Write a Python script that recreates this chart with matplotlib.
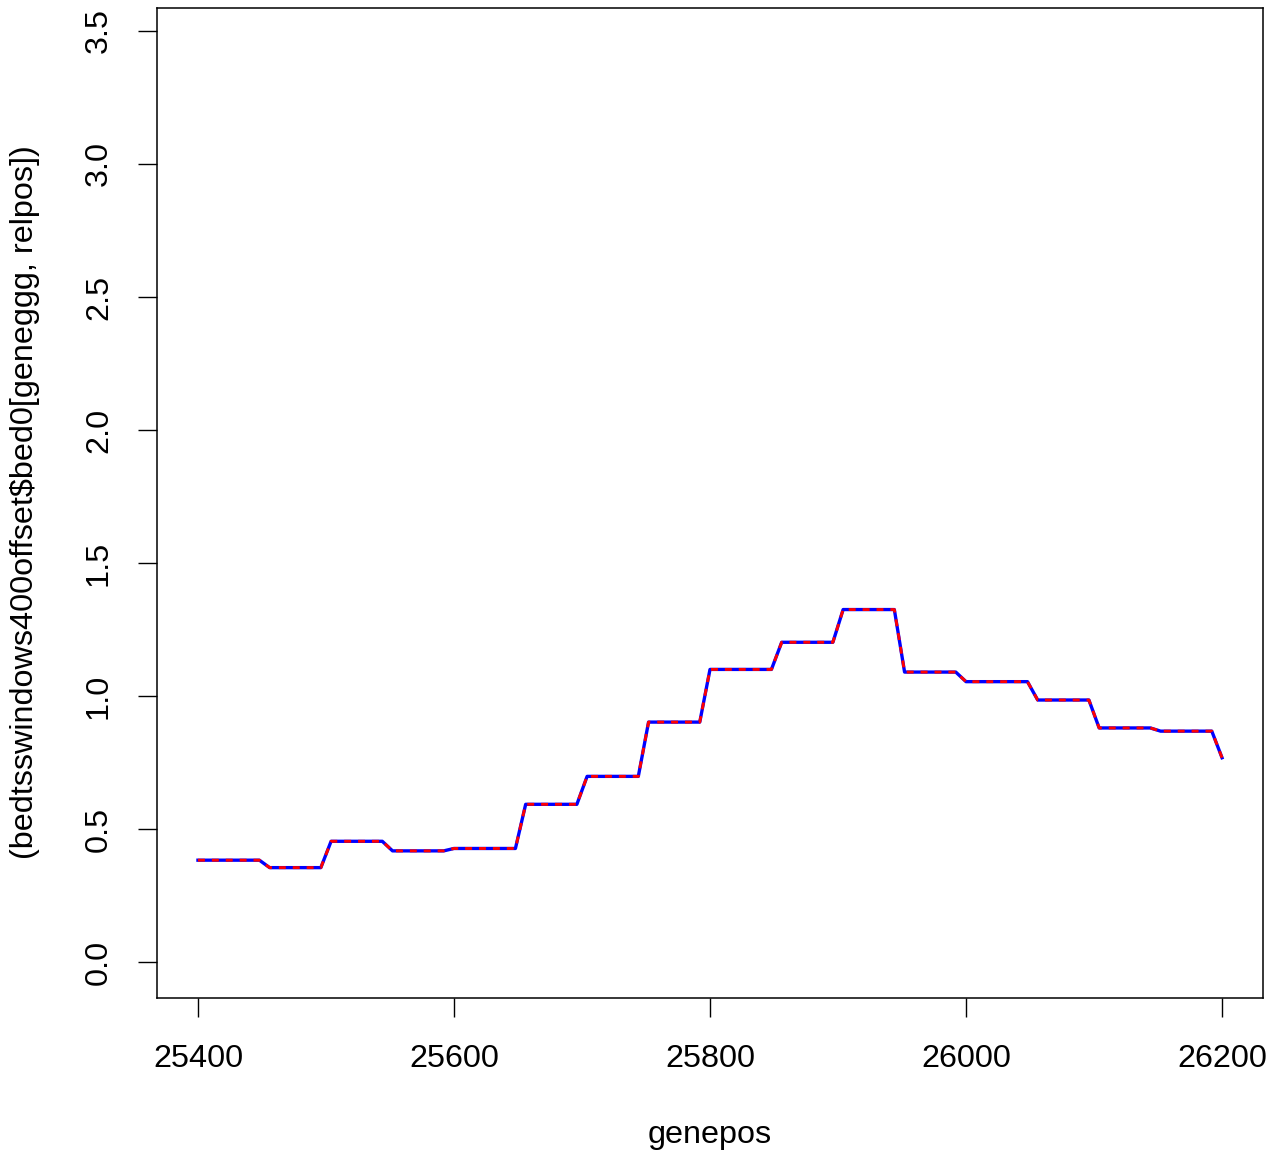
import matplotlib
matplotlib.use('Agg')
import matplotlib.pyplot as plt

# vertices of the step profile
genepos = [25400, 25448, 25456, 25496, 25504, 25544, 25552, 25592,
           25600, 25648, 25656, 25696, 25704, 25744, 25752, 25792,
           25800, 25848, 25856, 25896, 25904, 25944, 25952, 25992,
           26000, 26048, 26056, 26096, 26104, 26144, 26152, 26192, 26200]
signal = [0.383, 0.383, 0.355, 0.355, 0.454, 0.454, 0.418, 0.418,
          0.427, 0.427, 0.593, 0.593, 0.698, 0.698, 0.902, 0.902,
          1.100, 1.100, 1.202, 1.202, 1.325, 1.325, 1.090, 1.090,
          1.054, 1.054, 0.985, 0.985, 0.880, 0.880, 0.868, 0.868, 0.768]

x_ticks = [25400, 25600, 25800, 26000, 26200]
y_ticks = [0.0, 0.5, 1.0, 1.5, 2.0, 2.5, 3.0, 3.5]

plt.rcParams['font.family'] = ['Liberation Sans', 'DejaVu Sans']
plt.rcParams['lines.scale_dashes'] = False

W, H = 1280, 1154
fig = plt.figure(figsize=(W / 100, H / 100), dpi=100)
ax = fig.add_axes([157 / W, 1 - 998 / H, (1263 - 157) / W, (998 - 8) / H])

ax.plot(genepos, signal, color='#0000ff', linewidth=2.4, solid_joinstyle='round')
ax.plot(genepos, signal, color='#ff0000', linewidth=2.1, dashes=(5, 5))

ax.set_xlim(25368, 26232)
ax.set_ylim(-0.135, 3.586)
ax.set_xticks(x_ticks)
ax.set_xticklabels([str(v) for v in x_ticks])
ax.set_yticks(y_ticks)
ax.set_yticklabels([f'{v:.1f}' for v in y_ticks], rotation=90, va='center')

ax.tick_params(axis='both', direction='out', length=14, width=1.0,
               labelsize=23.3, color='black')
ax.tick_params(axis='x', pad=19)
ax.tick_params(axis='y', pad=17)
for sp in ax.spines.values():
    sp.set_linewidth(1.1)
    sp.set_color('black')

fig.text(710 / W, 1 - 1135 / H, 'genepos', ha='center', va='center', fontsize=23.3)
fig.text(25 / W, 1 - 502 / H, r'(bedtsswindows400offset\$bed0[geneggg, relpos])',
         ha='center', va='center', rotation=90, fontsize=23.3)

fig.savefig('out.png', dpi=100)
